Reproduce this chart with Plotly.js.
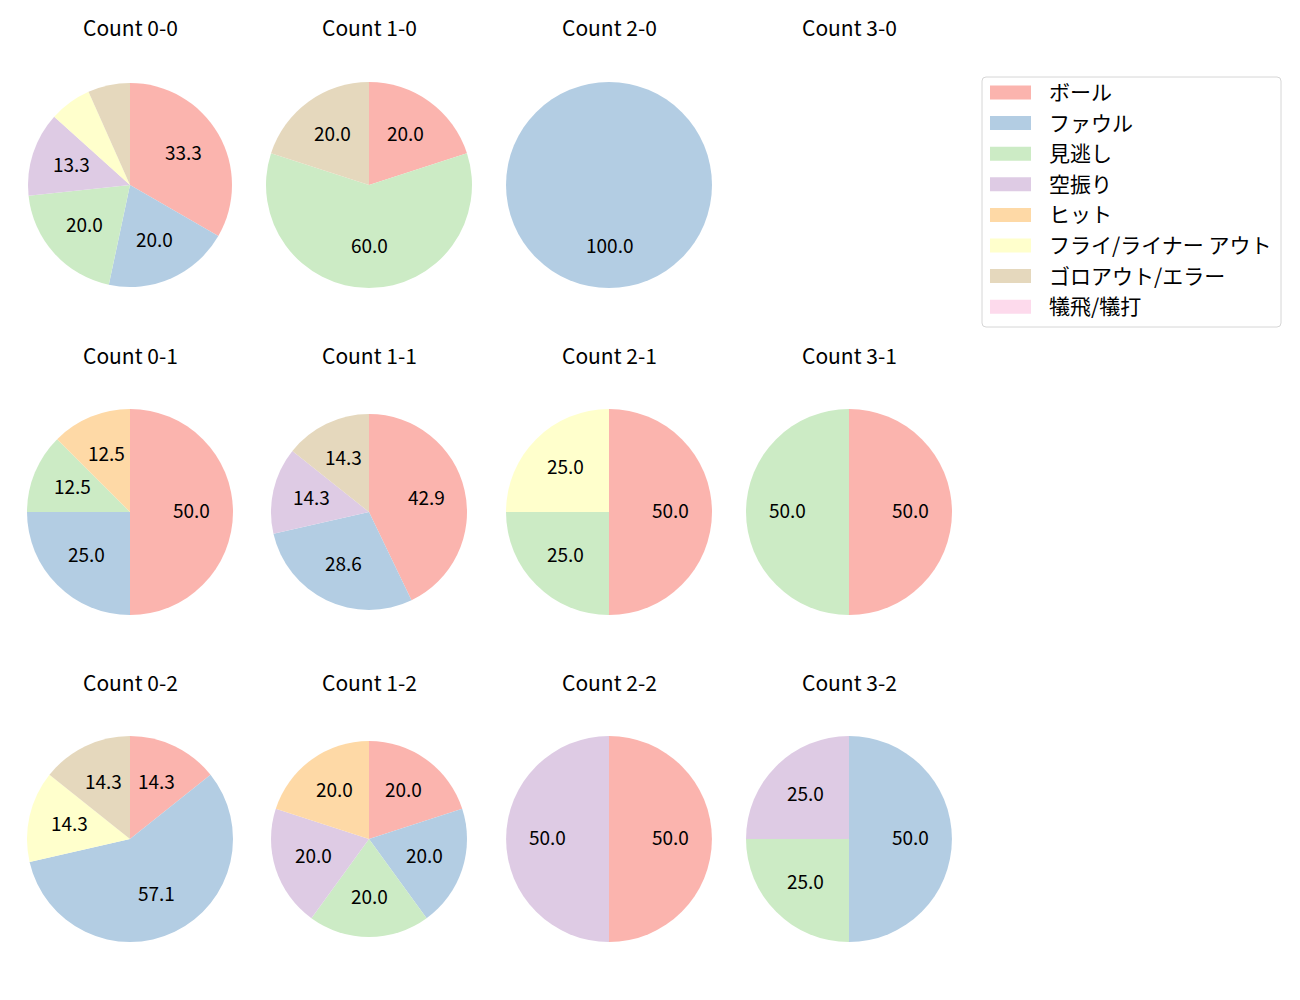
<!DOCTYPE html>
<html>
<head>
<meta charset="utf-8">
<script src="https://cdn.plot.ly/plotly-3.0.1.min.js"></script>
<style>html,body{margin:0;padding:0;background:#fff;}</style>
</head>
<body>
<div id="chart" style="width:1300px;height:1000px;"></div>
<script>
const categories = ['ボール','ファウル','見逃し','空振り','ヒット','フライ/ライナー アウト','ゴロアウト/エラー','犠飛/犠打'];
const colors = ['#fbb4ae','#b3cde3','#ccebc5','#decbe4','#fed9a6','#ffffcc','#e5d8bd','#fddaec'];
const countLabels = [['0-0','1-0','2-0','3-0'],['0-1','1-1','2-1','3-1'],['0-2','1-2','2-2','3-2']];
const c00 = [5,3,3,2,0,1,1,0];
const c10 = [1,0,3,0,0,0,1,0];
const c20 = [0,1,0,0,0,0,0,0];
const c30 = [];
const c01 = [4,2,1,0,1,0,0,0];
const c11 = [3,2,0,1,0,0,1,0];
const c21 = [2,0,1,0,0,1,0,0];
const c31 = [1,0,1,0,0,0,0,0];
const c02 = [1,4,0,0,0,1,1,0];
const c12 = [1,1,1,1,1,0,0,0];
const c22 = [1,0,0,1,0,0,0,0];
const c32 = [0,2,1,1,0,0,0,0];
const grid = [[c00,c10,c20,c30],[c01,c11,c21,c31],[c02,c12,c22,c32]];

// layout geometry (pixels)
const W = 1300, H = 1000;
const colX = [130, 369, 609, 849];
const rowY = [185, 512, 839];
const radii = [[102,103,103,103],[103,98,103,103],[103,98,103,103]];
const FONT = '"Noto Sans CJK JP", "Noto Sans", sans-serif';
const fsTitle = 21, fsLabel = 19, fsLegend = 21;

const traces = [];
const annotations = [];
const shapes = [];

for (let r = 0; r < 3; r++) {
  for (let c = 0; c < 4; c++) {
    const vals = grid[r][c];
    const cx = colX[c], cy = rowY[r], rad = radii[r][c];
    annotations.push({
      x: cx / W, y: 1 - (cy - 157.5) / H, xref: 'paper', yref: 'paper',
      text: 'Count ' + countLabels[r][c], showarrow: false,
      xanchor: 'center', yanchor: 'middle',
      font: {family: FONT, size: fsTitle, color: '#000'}
    });
    if (!vals.length) continue;
    traces.push({
      type: 'pie', labels: categories, values: vals, sort: false,
      direction: 'clockwise', rotation: 0,
      marker: {colors: colors, line: {width: 0}},
      textinfo: 'none', hoverinfo: 'none', showlegend: false,
      domain: {x: [(cx - rad) / W, (cx + rad) / W], y: [1 - (cy + rad) / H, 1 - (cy - rad) / H]}
    });
    const total = vals.reduce((a, b) => a + b, 0);
    let cum = 0;
    vals.forEach(v => {
      if (v > 0) {
        const p = v / total * 100;
        const mid = (cum + v / 2) / total * 2 * Math.PI;
        if (p >= 10) {
          const px = cx + 0.6 * rad * Math.sin(mid);
          const py = cy - 0.6 * rad * Math.cos(mid) - 2.5;
          annotations.push({
            x: px / W, y: 1 - py / H, xref: 'paper', yref: 'paper',
            text: p.toFixed(1), showarrow: false, xanchor: 'center', yanchor: 'middle',
            font: {family: FONT, size: fsLabel, color: '#000'}
          });
        }
      }
      cum += v;
    });
  }
}

// legend
const L = {x0: 982, x1: 1281, y0: 77, y1: 327, rr: 4};
const px = x => x / W, py = y => 1 - y / H;
shapes.push({
  type: 'path', xref: 'paper', yref: 'paper',
  path: `M ${px(L.x0+L.rr)},${py(L.y0)} L ${px(L.x1-L.rr)},${py(L.y0)} Q ${px(L.x1)},${py(L.y0)} ${px(L.x1)},${py(L.y0+L.rr)} L ${px(L.x1)},${py(L.y1-L.rr)} Q ${px(L.x1)},${py(L.y1)} ${px(L.x1-L.rr)},${py(L.y1)} L ${px(L.x0+L.rr)},${py(L.y1)} Q ${px(L.x0)},${py(L.y1)} ${px(L.x0)},${py(L.y1-L.rr)} L ${px(L.x0)},${py(L.y0+L.rr)} Q ${px(L.x0)},${py(L.y0)} ${px(L.x0+L.rr)},${py(L.y0)} Z`,
  line: {color: '#d6d6d6', width: 1}, fillcolor: 'rgba(255,255,255,0.8)'
});
categories.forEach((name, i) => {
  const yc = 92.5 + 30.6 * i;
  shapes.push({
    type: 'rect', xref: 'paper', yref: 'paper',
    x0: px(990), x1: px(1031), y0: py(yc - 7), y1: py(yc + 7),
    line: {width: 0}, fillcolor: colors[i]
  });
  annotations.push({
    x: px(1047), y: py(yc - 1.5), xref: 'paper', yref: 'paper', text: name,
    showarrow: false, xanchor: 'left', yanchor: 'middle',
    font: {family: FONT, size: fsLegend, color: '#000'}
  });
});

Plotly.newPlot('chart', traces, {
  width: W, height: H, margin: {l: 0, r: 0, t: 0, b: 0},
  paper_bgcolor: '#fff', plot_bgcolor: '#fff',
  showlegend: false, annotations: annotations, shapes: shapes
}, {staticPlot: true});
</script>
</body>
</html>
